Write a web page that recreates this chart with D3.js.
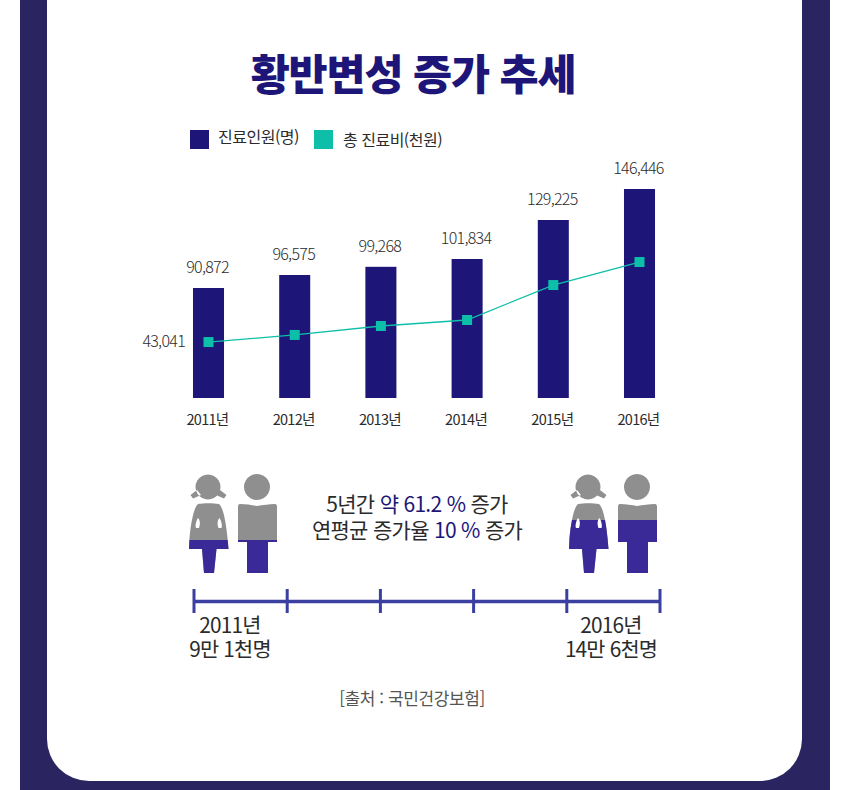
<!DOCTYPE html>
<html lang="ko">
<head>
<meta charset="utf-8">
<script src="https://cdn.jsdelivr.net/npm/d3@7"></script>
<style>
  html, body { margin: 0; background: #fff; }
  svg { display: block; }
  text { font-family: "Noto Sans CJK KR", sans-serif; fill: #2b2b2b; }
</style>
</head>
<body>
<div id="chart"></div>
<script>
const years = ['2011년', '2012년', '2013년', '2014년', '2015년', '2016년']
const patients = [90872, 96575, 99268, 101834, 129225, 146446]
const costs = [43041, 48500, 55400, 60000, 86900, 104600]
const legendLabels = ['진료인원(명)', '총 진료비(천원)']
const timelineTicks = [2011, 2012, 2013, 2014, 2015, 2016]

const navy = '#1d1678'
const teal = '#0dbfa8'
const frame = '#2a2560'
const purple = '#3a2a98'
const gray = '#8f8f8f'

const svg = d3.select('#chart')
  .append('svg')
    .attr('width', 848)
    .attr('height', 790)

// Frame
svg.append('rect').attr('x', 20).attr('y', 0).attr('width', 810).attr('height', 790).attr('fill', frame)
svg.append('path')
  .attr('fill', '#fff')
  .attr('d', 'M47,0H802V739A42,42 0 0 1 760,781H89A42,42 0 0 1 47,739Z')

// Title
svg.append('text')
  .attr('x', 413).attr('y', 90)
  .attr('text-anchor', 'middle')
  .attr('font-size', 42.5)
  .attr('font-weight', 900)
  .attr('letter-spacing', -1.2)
  .style('fill', navy)
  .text('황반변성 증가 추세')

// Legend
const legend = [
  { x: 190, y: 130, color: navy, tx: 218, ty: 143 },
  { x: 314, y: 130, color: teal, tx: 343, ty: 146 }
]
legend.forEach((l, i) => {
  svg.append('rect').attr('x', l.x).attr('y', l.y).attr('width', 19).attr('height', 19).attr('fill', l.color)
  svg.append('text')
    .attr('x', l.tx).attr('y', l.ty)
    .attr('font-size', 16)
    .attr('letter-spacing', -0.5)
    .text(legendLabels[i])
})

// Scales
const baseline = 398
const x = d3.scaleBand().domain(years).range([165.4, 682.6]).paddingInner(0.64).paddingOuter(0.32)
// the bars in the picture are not on one straight scale, so this one has several stops
const yBar = d3.scaleLinear().domain([90872, 96575, 101834, 129225, 146446]).range([288, 275, 259, 220, 189])
const yLine = d3.scaleLinear().domain([0, 100000]).range([baseline, 268])
const cx = d => x(d) + x.bandwidth() / 2

// Bars
svg.selectAll('.bar')
  .data(years)
  .enter()
  .append('rect')
    .attr('class', 'bar')
    .attr('x', d => x(d))
    .attr('y', (d, i) => yBar(patients[i]))
    .attr('width', x.bandwidth())
    .attr('height', (d, i) => baseline - yBar(patients[i]))
    .attr('fill', navy)

svg.selectAll('.bar-label')
  .data(years)
  .enter()
  .append('text')
    .attr('class', 'bar-label')
    .attr('x', d => cx(d) - 1)
    .attr('y', (d, i) => yBar(patients[i]) - 15)
    .attr('text-anchor', 'middle')
    .attr('font-size', 16)
    .attr('font-weight', 300)
    .attr('letter-spacing', -0.7)
    .text((d, i) => d3.format(',')(patients[i]))

svg.selectAll('.year')
  .data(years)
  .enter()
  .append('text')
    .attr('class', 'year')
    .attr('x', d => cx(d) - 1)
    .attr('y', 425)
    .attr('text-anchor', 'middle')
    .attr('font-size', 14.5)
    .attr('letter-spacing', -0.7)
    .text(d => d)

// Line
const line = d3.line()
  .x(d => cx(d))
  .y(d => yLine(costs[years.indexOf(d)]))

svg.append('path')
  .attr('d', line(years))
  .attr('fill', 'none')
  .attr('stroke', teal)
  .attr('stroke-width', 1.3)

svg.selectAll('.point')
  .data(years)
  .enter()
  .append('rect')
    .attr('class', 'point')
    .attr('x', d => cx(d) - 5)
    .attr('y', (d, i) => yLine(costs[i]) - 5)
    .attr('width', 10)
    .attr('height', 10)
    .attr('fill', teal)

svg.append('text')
  .attr('x', 185).attr('y', 347)
  .attr('text-anchor', 'end')
  .attr('font-size', 16)
  .attr('font-weight', 300)
  .attr('letter-spacing', -0.7)
  .text(d3.format(',')(costs[0]))

// Pictograms, the fill level comes from the patient count
const girlShape = 'M208,474.5 a12.5,12.5 0 1 1 -0.01,0 Z '
  + 'M197,490 L190.5,495 L193,498.5 L201,495 Z M220,490 L226.5,495 L224,498.5 L216,495 Z '
  + 'M198,504 C204,503 213,503 219,504 C223,507 226,522 227.5,538 L228.5,549 L216.5,549 L214,573 L204,573 L202,549 L189,549 L189.5,538 C191,522 194,507 198,504 Z'
const girlHoles = 'M198,518 C196,521 195,526 196,528 L199,528 C200.5,524 200,520 198,518 Z '
  + 'M219.5,518 C221.5,521 222.5,526 221.5,528 L218.5,528 C217,524 217.5,520 219.5,518 Z'
const boyShape = 'M257,474 a13,13 0 1 1 -0.01,0 Z '
  + 'M240,504 C246,504 252,505 257,506 C263,505 269,504 275,504 Q277,504 277,507 L277,542 L268,542 L268,573 L247,573 L247,542 L238,542 L238,507 Q238,504 240,504 Z'

const drawPerson = (id, shape, holes, dx, fillTop) => {
  const g = svg.append('g').attr('transform', `translate(${dx},0)`)
  g.append('clipPath').attr('id', id)
    .append('rect').attr('x', 180).attr('y', fillTop).attr('width', 110).attr('height', 80)
  g.append('path').attr('d', shape).attr('fill', gray)
  g.append('path').attr('d', shape).attr('fill', purple).attr('clip-path', `url(#${id})`)
  if (holes) g.append('path').attr('d', holes).attr('fill', '#fff')
}

const yFill = d3.scaleLinear().domain([0, 146446]).range([573, 520])
const lowFill = yFill(patients[0])
const highFill = yFill(patients[5])
drawPerson('girl-a', girlShape, girlHoles, 0, lowFill)
drawPerson('boy-a', boyShape, null, 0, lowFill)
drawPerson('girl-b', girlShape, girlHoles, 380, highFill)
drawPerson('boy-b', boyShape, null, 380, highFill)

// Center notes
const note = svg.append('g').attr('font-size', 21).attr('text-anchor', 'middle').attr('letter-spacing', -0.7)
const noteOne = note.append('text').attr('x', 417).attr('y', 512)
noteOne.append('tspan').text('5년간 ')
noteOne.append('tspan').style('fill', navy).text('약 61.2 %')
noteOne.append('tspan').text(' 증가')
const noteTwo = note.append('text').attr('x', 417).attr('y', 538)
noteTwo.append('tspan').text('연평균 증가율 ')
noteTwo.append('tspan').style('fill', navy).text('10 %')
noteTwo.append('tspan').text(' 증가')

// Timeline
const xTime = d3.scalePoint().domain(timelineTicks).range([193.5, 659.5])
const timeAxis = svg.append('g').attr('transform', 'translate(0,601)')
  .call(d3.axisBottom(xTime).tickSize(0).tickFormat(''))
timeAxis.select('.domain').attr('stroke', '#3b3fa0').attr('stroke-width', 3.5)
timeAxis.selectAll('.tick line')
  .attr('y1', -12).attr('y2', 12)
  .attr('stroke', '#3b3fa0')
  .attr('stroke-width', 3)

const endLabels = [
  { x: 230, lines: ['2011년', '9만 1천명'] },
  { x: 611, lines: ['2016년', '14만 6천명'] }
]
endLabels.forEach(l => {
  l.lines.forEach((s, i) => {
    svg.append('text')
      .attr('x', l.x).attr('y', 633 + i * 23.5)
      .attr('text-anchor', 'middle')
      .attr('font-size', 20.8)
      .attr('letter-spacing', -0.8)
      .text(s)
  })
})

// Source
svg.append('text')
  .attr('x', 412).attr('y', 705)
  .attr('text-anchor', 'middle')
  .attr('font-size', 17)
  .attr('letter-spacing', -0.4)
  .style('fill', '#555')
  .text('[출처 : 국민건강보험]')
</script>
</body>
</html>
